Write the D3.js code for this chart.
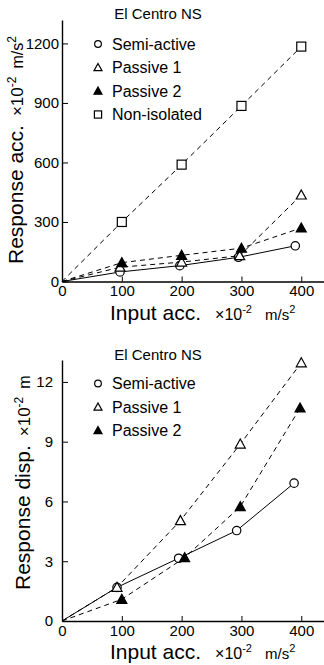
<!DOCTYPE html>
<html>
<head>
<meta charset="utf-8">
<script src="https://cdn.jsdelivr.net/npm/d3@7"></script>
<style>
  body { margin: 0; background: #fff; }
  svg { display: block; font-family: "Liberation Sans", Arial, sans-serif; }
</style>
</head>
<body>
<svg id="chart" width="324" height="665"></svg>
<script>
// top panel: response acceleration
const xTicks = [0, 100, 200, 300, 400];
const accTicks = [0, 300, 600, 900, 1200];
const accSemiX = [0, 97, 197, 295, 390];
const accSemiY = [0, 48, 80, 122, 180];
const accPas1X = [0, 97, 200, 297, 400];
const accPas1Y = [0, 72, 98, 130, 436];
const accPas2X = [0, 100, 200, 300, 400];
const accPas2Y = [0, 95, 132, 168, 270];
const accNonX = [0, 100, 200, 300, 400];
const accNonY = [0, 300, 589, 885, 1184];

// bottom panel: response displacement
const dispTicks = [0, 3, 6, 9, 12];
const dispSemiX = [0, 92, 195, 292, 388];
const dispSemiY = [0, 1.69, 3.15, 4.54, 6.92];
const dispPas1X = [0, 92, 198, 298, 400];
const dispPas1Y = [0, 1.69, 5.04, 8.88, 12.96];
const dispPas2X = [0, 100, 205, 298, 398];
const dispPas2Y = [0, 1.09, 3.18, 5.74, 10.69];

const title = "El Centro NS";

const svg = d3.select('#chart');

function marker(g, type, x, y, k = 1) {
    if (type === 'circle') {
        g.append('circle').attr('cx', x).attr('cy', y).attr('r', 4.2 * k)
            .attr('fill', '#fff').attr('stroke', '#000').attr('stroke-width', 1.2);
    } else if (type === 'square') {
        const h = 4.5 * k;
        g.append('rect').attr('x', x - h).attr('y', y - h).attr('width', 2 * h).attr('height', 2 * h)
            .attr('fill', '#fff').attr('stroke', '#000').attr('stroke-width', 1.2);
    } else {
        const s = 5 * k;
        g.append('path')
            .attr('d', `M${x},${y - s}L${x + s},${y + s * 0.8}L${x - s},${y + s * 0.8}Z`)
            .attr('fill', type === 'tri-filled' ? '#000' : '#fff')
            .attr('stroke', '#000').attr('stroke-width', 1.2);
    }
}

function panel(opt) {
    const x = d3.scaleLinear([0, 438], [62, 324]);
    const y = d3.scaleLinear(opt.yDomain, opt.yRange);
    const g = svg.append('g');

    // axes
    g.append('g')
        .attr('transform', `translate(0,${opt.yRange[0]})`)
        .call(d3.axisBottom(x).tickValues(xTicks).tickSize(-5).tickSizeOuter(0).tickPadding(4))
        .call(a => a.select('.domain').attr('stroke-width', 1.4));
    g.append('g')
        .attr('transform', 'translate(62,0)')
        .call(d3.axisLeft(y).tickValues(opt.yTicks).tickFormat(d3.format('d'))
            .tickSize(-6).tickSizeOuter(0).tickPadding(opt.yPad))
        .call(a => a.select('.domain').attr('stroke-width', 1.4));
    g.selectAll('.tick text').attr('font-size', 15).attr('fill', '#000')
        .attr('font-family', '"Liberation Sans", Arial, sans-serif');
    g.selectAll('.tick line').attr('stroke', '#000');

    // series
    const line = d3.line().x(d => x(d[0])).y(d => y(d[1]));
    opt.series.forEach(s => {
        const pts = s.xs.map((v, i) => [v, s.ys[i]]);
        g.append('path').datum(pts)
            .attr('d', line)
            .attr('fill', 'none')
            .attr('stroke', '#000')
            .attr('stroke-width', 1)
            .attr('stroke-dasharray', s.dashed ? '5,4' : null);
        pts.slice(1).forEach(p => marker(g, s.type, x(p[0]), y(p[1])));
    });

    // title
    g.append('text').attr('x', 158).attr('y', opt.titleY)
        .attr('text-anchor', 'middle').attr('font-size', 15)
        .text(title);

    // legend
    opt.series.forEach((s, i) => {
        const ly = opt.legendY + i * 23.5;
        marker(g, s.type, 98, ly, 0.8);
        g.append('text').attr('x', 112).attr('y', ly).attr('dy', '0.36em')
            .attr('font-size', 16).text(s.name);
    });

    // x label
    const xl = g.append('text').attr('x', 110).attr('y', opt.xLabelY);
    xl.append('tspan').attr('font-size', 21).text('Input acc.');
    xl.append('tspan').attr('font-size', 16).attr('dx', 14).text('\u00d710');
    xl.append('tspan').attr('font-size', 11).attr('dy', -7).text('-2');
    xl.append('tspan').attr('font-size', 15).attr('dy', 7).attr('dx', 13).text('m/s');
    xl.append('tspan').attr('font-size', 11).attr('dy', -7).text('2');

    // y label
    const yl = g.append('text')
        .attr('transform', `translate(${opt.yLabelX},${opt.yLabelY}) rotate(-90)`);
    yl.append('tspan').attr('font-size', 21).text(opt.yLabel);
    yl.append('tspan').attr('font-size', 17).attr('dx', 9).text('\u00d710');
    yl.append('tspan').attr('font-size', 12).attr('dy', -7).text('-2');
    yl.append('tspan').attr('font-size', 16).attr('dy', 7).attr('dx', 8).text(opt.yUnit);
    if (opt.yUnitSup) {
        yl.append('tspan').attr('font-size', 12).attr('dy', -7).text(opt.yUnitSup);
    }
}

panel({
    yDomain: [0, 1318], yRange: [281.5, 20], yTicks: accTicks, yPad: 3,
    titleY: 19, legendY: 44, xLabelY: 320,
    yLabel: 'Response acc.', yUnit: 'm/s', yUnitSup: '2',
    yLabelX: 23, yLabelY: 264,
    series: [
        {name: 'Semi-active', type: 'circle', xs: accSemiX, ys: accSemiY, dashed: false},
        {name: 'Passive 1', type: 'tri-open', xs: accPas1X, ys: accPas1Y, dashed: true},
        {name: 'Passive 2', type: 'tri-filled', xs: accPas2X, ys: accPas2Y, dashed: true},
        {name: 'Non-isolated', type: 'square', xs: accNonX, ys: accNonY, dashed: true}
    ]
});

panel({
    yDomain: [0, 13.1], yRange: [621, 360], yTicks: dispTicks, yPad: 9,
    titleY: 360, legendY: 383.5, xLabelY: 659,
    yLabel: 'Response disp.', yUnit: 'm', yUnitSup: null,
    yLabelX: 30, yLabelY: 590,
    series: [
        {name: 'Semi-active', type: 'circle', xs: dispSemiX, ys: dispSemiY, dashed: false},
        {name: 'Passive 1', type: 'tri-open', xs: dispPas1X, ys: dispPas1Y, dashed: true},
        {name: 'Passive 2', type: 'tri-filled', xs: dispPas2X, ys: dispPas2Y, dashed: true}
    ]
});
</script>
</body>
</html>
